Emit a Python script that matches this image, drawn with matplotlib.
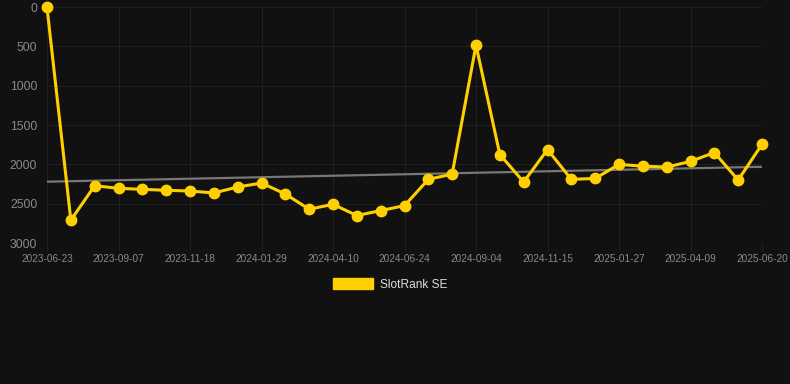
import numpy as np
import matplotlib.pyplot as plt
from matplotlib.patches import Patch

# rank values (lower = better), one point per snapshot
ranks = [5, 2710, 2272, 2305, 2318, 2330, 2339, 2364, 2288, 2238,
         2377, 2571, 2508, 2651, 2588, 2525, 2191, 2124, 485, 1875,
         2225, 1812, 2191, 2179, 2001, 2023, 2035, 1963, 1850, 2200,
         1745]
tick_labels = ["2023-06-23", "2023-09-07", "2023-11-18", "2024-01-29",
               "2024-04-10", "2024-06-24", "2024-09-04", "2024-11-15",
               "2025-01-27", "2025-04-09", "2025-06-20"]
series_name = "SlotRank SE"

BG = "#111111"
GOLD = "#FFD000"
GRID = "#202020"
TICK = "#8a8a8a"


def main():
    plt.rcParams["font.family"] = ["Liberation Sans", "DejaVu Sans"]

    fig = plt.figure(figsize=(7.9, 3.84), dpi=100, facecolor=BG)
    ax = fig.add_axes([47 / 790, 1 - 243 / 384, 715 / 790, 236 / 384])
    ax.set_facecolor(BG)

    x = np.arange(len(ranks))
    y = np.array(ranks, dtype=float)

    # linear trend
    k, b = np.polyfit(x, y, 1)
    ax.plot(x[[0, -1]], k * x[[0, -1]] + b + 20, color="#777777", lw=1.6,
            zorder=2)

    ax.plot(x, y, color=GOLD, lw=2.2, marker="o", markersize=7.5,
            clip_on=False, zorder=3, label=series_name)

    ax.set_xlim(0, len(ranks) - 1)
    ax.set_ylim(3000, 0)
    ax.set_yticks(range(0, 3001, 500))
    ax.set_xticks(x[::3])
    ax.set_xticklabels(tick_labels)

    ax.grid(True, color=GRID, lw=0.8)
    ax.set_axisbelow(True)
    for s in ax.spines.values():
        s.set_visible(False)
    ax.tick_params(axis="y", colors=GRID, labelcolor=TICK, labelsize=8.8,
                   length=0, pad=7)
    ax.tick_params(axis="x", colors=GRID, labelcolor=TICK, labelsize=7.2,
                   length=6, pad=2)

    fig.legend(handles=[Patch(facecolor=GOLD, edgecolor=GOLD,
                              label=series_name)],
               loc="upper center", bbox_to_anchor=(390 / 790, 1 - 267 / 384),
               frameon=False, fontsize=8.6, handlelength=3.4,
               handleheight=1.1, handletextpad=0.55, labelcolor="#dddddd")

    fig.savefig("out.png", dpi=100, facecolor=BG)
    plt.close(fig)


if __name__ == "__main__":
    main()
